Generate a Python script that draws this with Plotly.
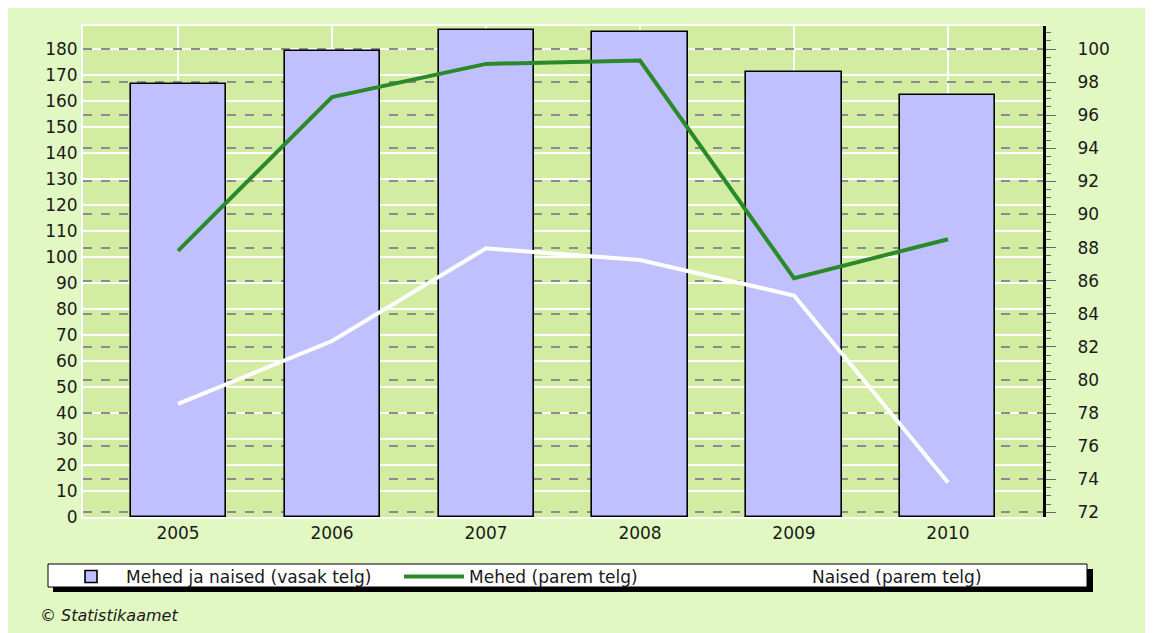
import plotly.graph_objects as go

years = ["2005", "2006", "2007", "2008", "2009", "2010"]
total = [166.5, 179.3, 187.3, 186.5, 171.2, 162.3]
men = [87.8, 97.1, 99.1, 99.3, 86.15, 88.5]
women = [78.55, 82.35, 87.95, 87.25, 85.1, 73.8]

name_total = "Mehed ja naised (vasak telg)"
name_men = "Mehed (parem telg)"
name_women = "Naised (parem telg)"
left_ticks = list(range(0, 181, 10))
right_ticks = list(range(72, 101, 2))

FONT = "DejaVu Sans"
PAGE_BG = "#e2f8c3"
PLOT_BG = "#d2eda1"

OFF = 8  # page body margin
W, H = 1153 - OFF, 633 - OFF
L, T = 83 - OFF, 26 - OFF
R = W - (1043 - OFF)
B = H - (517 - OFF)
PW, PH = W - L - R, H - T - B

def px(x):
    return (x - OFF - L) / PW

def py(y):
    return (H - B - (y - OFF)) / PH

fig = go.Figure()
fig.add_trace(go.Bar(
    x=years, y=total, name=name_total, width=0.617,
    marker=dict(color="#c0c0ff", line=dict(color="#000000", width=1.6)),
    yaxis="y",
))
fig.add_trace(go.Scatter(
    x=years, y=men, name=name_men, mode="lines",
    line=dict(color="#2a8a2a", width=4), yaxis="y2",
))
fig.add_trace(go.Scatter(
    x=years, y=women, name=name_women, mode="lines",
    line=dict(color="#ffffff", width=4), yaxis="y2",
))

fig.update_layout(
    width=W, height=H,
    margin=dict(l=L, r=R, t=T, b=B, pad=0),
    paper_bgcolor=PAGE_BG, plot_bgcolor=PLOT_BG,
    font=dict(family=FONT, size=17, color="#1a1a1a"),
    bargap=0,
    xaxis=dict(
        type="category", range=[-0.617, 5.617],
        showgrid=True, gridcolor="#ffffff", gridwidth=2,
        showline=True, linecolor="#ffffff", linewidth=2, mirror=True,
        ticks="", ticklabelstandoff=0, zeroline=False,
    ),
    yaxis=dict(
        range=[0, 188.85], tickvals=left_ticks,
        showgrid=True, gridcolor="#ffffff", gridwidth=2,
        showline=True, linecolor="#ffffff", linewidth=2,
        ticks="", ticklabelstandoff=0, zeroline=False,
    ),
    yaxis2=dict(
        overlaying="y", side="right", range=[71.716, 101.39],
        tickvals=right_ticks,
        showgrid=True, gridcolor="#8c8c8c", gridwidth=1.5, griddash="dash",
        showline=True, linecolor="#000000", linewidth=3,
        ticks="outside", ticklen=10, tickwidth=1.2, tickcolor="#666666",
        ticklabelstandoff=18, zeroline=False,
        minor=dict(dtick=0.5, ticks="outside", ticklen=5, tickwidth=1, tickcolor="#666666",
                   showgrid=False),
    ),
    showlegend=True,
    legend=dict(
        orientation="h", x=px(56), y=py(559), xanchor="left", yanchor="top",
        bgcolor="rgba(0,0,0,0)", borderwidth=0,
        entrywidth=268, entrywidthmode="pixels", itemwidth=60,
        font=dict(family=FONT, size=17, color="#1a1a1a"),
        traceorder="normal",
    ),
    shapes=[
        dict(type="rect", xref="paper", yref="paper", layer="below",
             x0=px(53), x1=px(1093), y0=py(592), y1=py(569),
             fillcolor="#000000", line=dict(width=0)),
        dict(type="rect", xref="paper", yref="paper", layer="below",
             x0=px(48), x1=px(1087), y0=py(587), y1=py(564),
             fillcolor="#ffffff", line=dict(color="#000000", width=1)),
    ],
    annotations=[
        dict(text="<i>© Statistikaamet</i>", xref="paper", yref="paper",
             x=px(38), y=py(615), xanchor="left", yanchor="middle",
             showarrow=False, font=dict(family=FONT, size=16, color="#1a1a1a")),
    ],
)

fig.write_html("out.html")
